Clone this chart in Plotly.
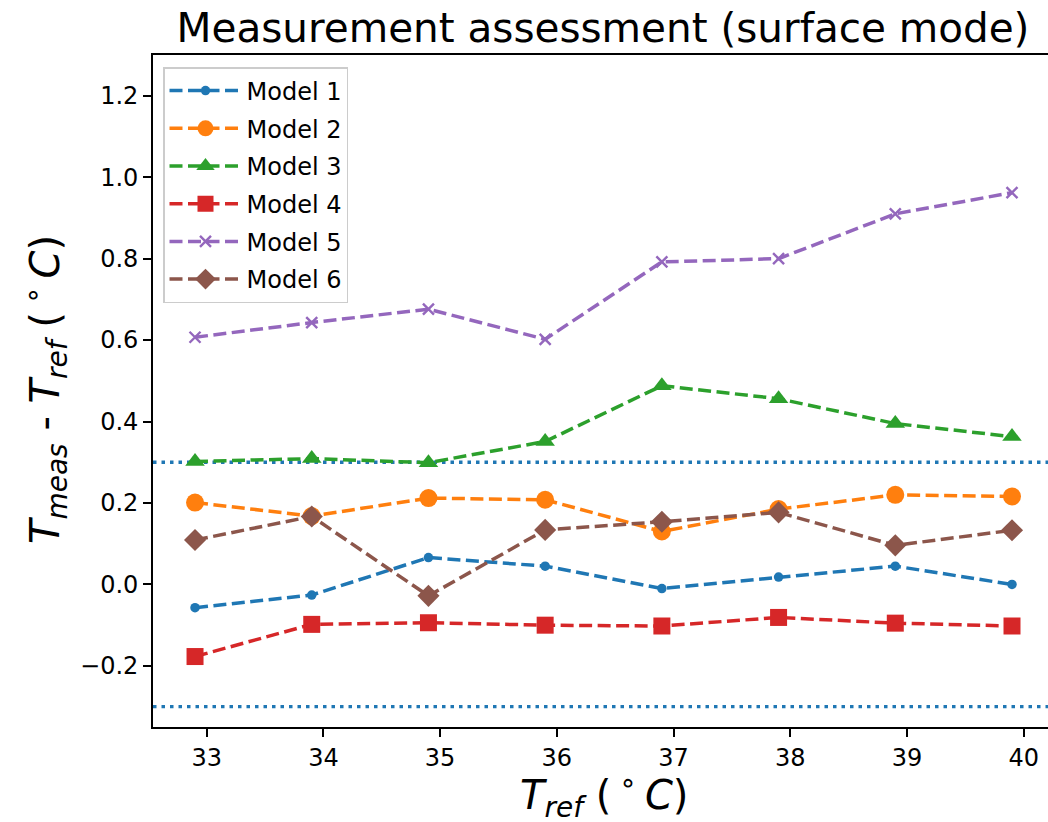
import plotly.graph_objects as go

# ---- data ----
t_ref = [32.9, 33.9, 34.9, 35.9, 36.9, 37.9, 38.9, 39.9]
model_names = ["Model 1", "Model 2", "Model 3", "Model 4", "Model 5", "Model 6"]
model1 = [-0.057, -0.026, 0.066, 0.045, -0.010, 0.018, 0.045, 0.000]
model2 = [0.201, 0.168, 0.212, 0.208, 0.130, 0.185, 0.220, 0.216]
model3 = [0.302, 0.309, 0.299, 0.351, 0.488, 0.456, 0.395, 0.363]
model4 = [-0.177, -0.098, -0.094, -0.100, -0.102, -0.081, -0.095, -0.102]
model5 = [0.607, 0.643, 0.676, 0.602, 0.792, 0.800, 0.910, 0.962]
model6 = [0.109, 0.167, -0.028, 0.134, 0.154, 0.177, 0.096, 0.133]
limits = [0.3, -0.3]
y_ticks = [-0.2, 0.0, 0.2, 0.4, 0.6, 0.8, 1.0, 1.2]
x_ticks = [33, 34, 35, 36, 37, 38, 39, 40]

series = [model1, model2, model3, model4, model5, model6]
colors = ["#1f77b4", "#ff7f0e", "#2ca02c", "#d62728", "#9467bd", "#8c564b"]
symbols = ["circle", "circle", "triangle-up", "square", "x-thin", "diamond"]
sizes = [9.5, 18, 17, 17, 11, 17]

FONT = "DejaVu Sans"
W, H = 1048, 822
L, R, T, B = 153, 0, 55, 95

fig = go.Figure()
for i, (name, vals) in enumerate(zip(model_names, series)):
    marker = dict(color=colors[i], symbol=symbols[i], size=sizes[i])
    if symbols[i] == "x-thin":
        marker["line"] = dict(color=colors[i], width=2.4)
    else:
        marker["line"] = dict(width=0)
    fig.add_trace(go.Scatter(
        x=t_ref, y=vals, name=name, mode="lines+markers",
        line=dict(color=colors[i], width=3.5, dash="13px,5.5px"),
        marker=marker, legendgroup=name,
    ))

for lim in limits:
    fig.add_hline(y=lim, line=dict(color="#1f77b4", width=3.4, dash="3.5px,5px"),
                  layer="below")

plot_w = W - L - R
plot_h = H - T - B
px_per_unit = 116.71
x0 = 33 - (206.7 - L) / px_per_unit
x1 = x0 + plot_w / px_per_unit

deg = "(\u2009<sup>∘</sup>\u2009<i>C</i>)"

fig.update_layout(
    width=W, height=H,
    margin=dict(l=L, r=R, t=T, b=B, pad=0),
    paper_bgcolor="white", plot_bgcolor="white",
    font=dict(family=FONT, size=24, color="black"),
    showlegend=True,
    legend=dict(
        x=(163 - L) / plot_w, y=(H - B - 67) / plot_h,
        xanchor="left", yanchor="top",
        bgcolor="rgba(255,255,255,0.8)", bordercolor="#cccccc", borderwidth=1.5,
        font=dict(family=FONT, size=24, color="black"),
        traceorder="grouped", tracegroupgap=3.5,
        itemwidth=72,
    ),
    title=dict(
        text="Measurement assessment (surface mode)",
        x=603 / W, xref="container", xanchor="center",
        y=1 - 28 / H, yref="container", yanchor="middle",
        font=dict(family=FONT, size=40.5, color="black"),
    ),
    xaxis=dict(
        range=[x0, x1], tickvals=x_ticks, ticktext=[str(v) for v in x_ticks],
        showgrid=False, zeroline=False,
        showline=True, linecolor="black", linewidth=1.8, mirror=True,
        ticks="outside", ticklen=8, tickwidth=1.8, tickcolor="black",
        tickfont=dict(family=FONT, size=24, color="black"),
    ),
    yaxis=dict(
        range=[-0.35, 1.3], tickvals=y_ticks, tickformat=".1f",
        showgrid=False, zeroline=False,
        showline=True, linecolor="black", linewidth=1.8, mirror=False,
        ticks="outside", ticklen=8, tickwidth=1.8, tickcolor="black",
        tickfont=dict(family=FONT, size=24, color="black"),
    ),
    annotations=[
        dict(text="<i>T</i><sub><i>ref</i></sub> " + deg,
             xref="paper", yref="paper",
             x=(604 - L) / plot_w, y=(H - B - 795) / plot_h,
             xanchor="center", yanchor="middle", showarrow=False,
             font=dict(family=FONT, size=40, color="black")),
        dict(text="<i>T</i><sub><i>meas</i></sub> - <i>T</i><sub><i>ref</i></sub> " + deg,
             xref="paper", yref="paper",
             x=(45 - L) / plot_w, y=(H - B - 390) / plot_h,
             xanchor="center", yanchor="middle", showarrow=False, textangle=-90,
             font=dict(family=FONT, size=40, color="black")),
    ],
)

fig.write_html(
    "out.html",
    config={"displayModeBar": False},
    post_script="document.body.style.margin='0';document.body.style.overflow='hidden';",
)
